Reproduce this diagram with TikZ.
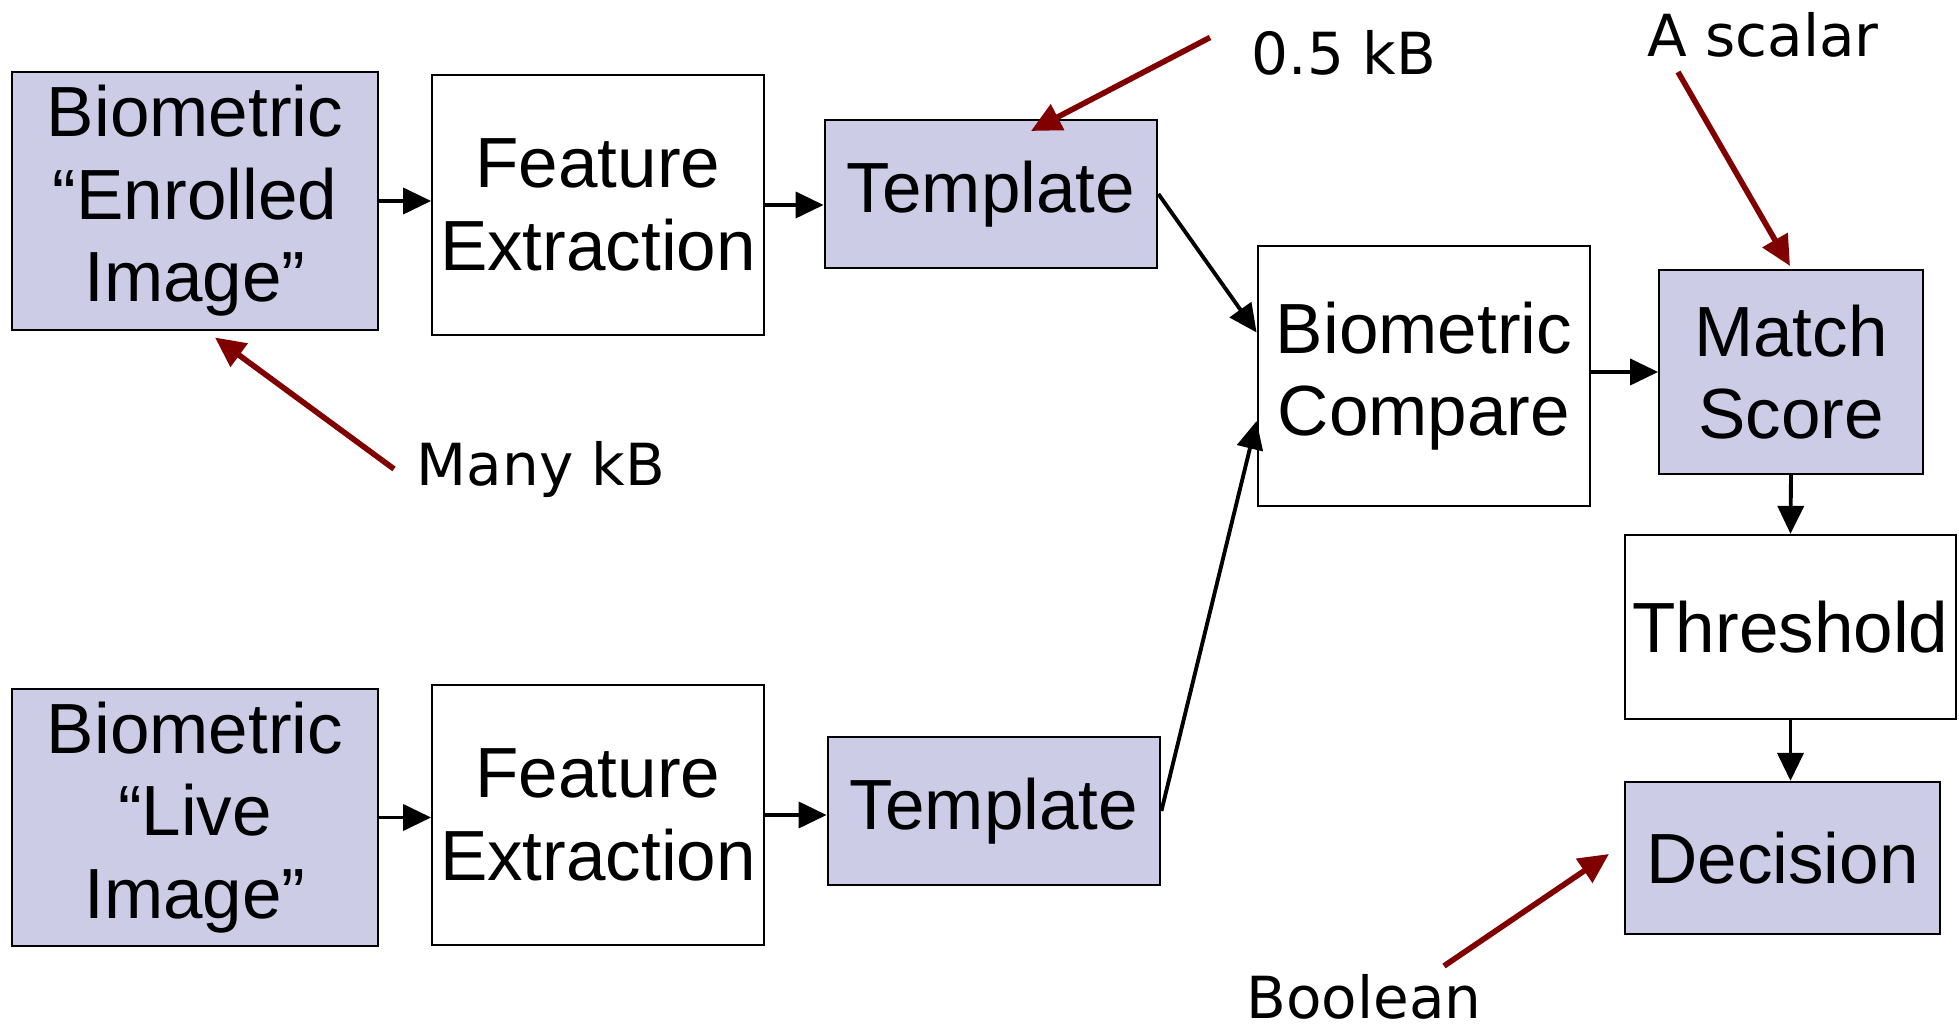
\documentclass[tikz,border=0pt]{standalone}
\usepackage{fontspec}
\setmainfont{Liberation Sans}
\newfontfamily\notefont{DejaVu Sans}
\usetikzlibrary{arrows.meta}
\definecolor{boxblue}{RGB}{204,204,230}
\definecolor{notered}{RGB}{128,0,0}

\begin{document}
\begin{tikzpicture}[x=0.01cm, y=-0.01cm,
        b/.style={draw, line width=0.6pt, align=center, inner sep=0pt, font=\fontsize{20.2}{23.5}\selectfont},
        f/.style={b, fill=boxblue},
        note/.style={inner sep=0pt, font=\notefont\fontsize{16.5}{19}\selectfont},
        flow/.style={-{Triangle[length=0.28cm, width=0.26cm]}, line width=1.1pt},
        hint/.style={-{Triangle[length=0.3cm, width=0.28cm]}, line width=1.6pt, notered}]
        \useasboundingbox (0,0) rectangle (1959,1034);

        \node[f, minimum width=3.65cm, minimum height=2.575cm] (enr) at (195,201) {Biometric\\“Enrolled\\Image”};
        \node[b, minimum width=3.315cm, minimum height=2.6cm] (fe1) at (598,205) {Feature\\Extraction};
        \node[f, minimum width=3.325cm, minimum height=1.475cm] (tpl1) at (991,194) {Template};
        \node[b, minimum width=3.325cm, minimum height=2.6cm] (cmp) at (1424,376) {Biometric\\Compare};
        \node[f, minimum width=2.635cm, minimum height=2.04cm] (score) at (1791,372) {Match\\Score};
        \node[b, minimum width=3.31cm, minimum height=1.84cm] (thr) at (1790.5,627) {Threshold};
        \node[f, minimum width=3.15cm, minimum height=1.52cm] (dec) at (1782.5,858) {Decision};
        \node[f, minimum width=3.65cm, minimum height=2.57cm] (live) at (195,817.5) {Biometric\\“Live\\Image”};
        \node[b, minimum width=3.315cm, minimum height=2.6cm] (fe2) at (598,815) {Feature\\Extraction};
        \node[f, minimum width=3.325cm, minimum height=1.475cm] (tpl2) at (994,811) {Template};

        \draw[flow] (enr.east) -- (enr.east -| fe1.west);
        \draw[flow] (fe1.east) -- (fe1.east -| tpl1.west);
        \draw[flow] (tpl1.east) -- ([yshift=0.435cm]cmp.west);
        \draw[flow] (live.east) -- (live.east -| fe2.west);
        \draw[flow] (fe2.east) -- (fe2.east -| tpl2.west);
        \draw[flow] (tpl2.east) -- ([yshift=-0.45cm]cmp.west);
        \draw[flow] (score.west -| cmp.east) -- (score.west);
        \draw[flow] (score.south) -- (thr.north);
        \draw[flow] (thr.south) -- (thr.south |- dec.north);

        % size notes
        \node[note] (halfkb) at (1344,52.5) {0.5 kB};
        \node[note] (scalar) at (1763,35) {A scalar};
        \node[note] (manykb) at (541,469) {Many kB};
        \node[note] (bool) at (1364,997) {Boolean};
        \coordinate (halfkbtip) at (1031,131);
        \coordinate (scalartip) at (1790,266);
        \coordinate (manykbtip) at (215,337.5);
        \coordinate (booltip) at (1609,854);

        \draw[hint] ([shift={(-134,-15)}]halfkb.center) -- (halfkbtip);
        \draw[hint] ([shift={(-85,37)}]scalar.center) -- (scalartip);
        \draw[hint] ([shift={(-147,0)}]manykb.center) -- (manykbtip);
        \draw[hint] ([shift={(80,-31)}]bool.center) -- (booltip);
    \end{tikzpicture}
\end{document}
